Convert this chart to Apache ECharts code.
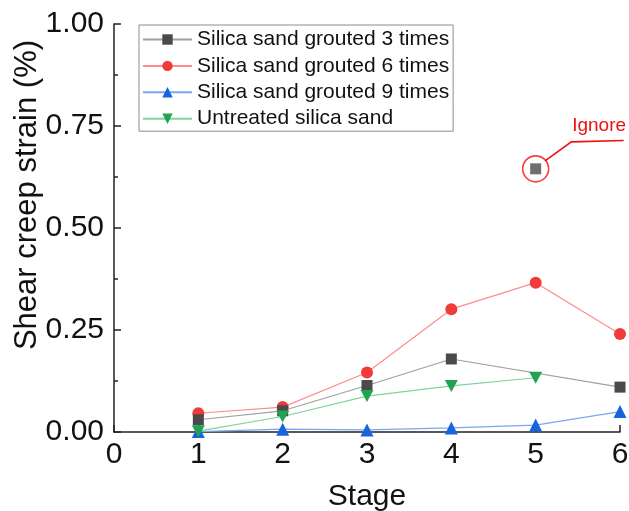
<!DOCTYPE html>
<html>
<head>
<meta charset="utf-8">
<script src="https://cdn.jsdelivr.net/npm/echarts@6/dist/echarts.min.js"></script>
<style>html,body{margin:0;padding:0;background:#fff}#c{width:629px;height:511px}</style>
</head>
<body>
<div id="c"></div>
<script>
var seriesNames = ['Silica sand grouted 3 times','Silica sand grouted 6 times','Silica sand grouted 9 times','Untreated silica sand'];
var stages3 = [1, 2, 3, 4, 6];
var grouted3 = [0.030, 0.052, 0.114, 0.179, 0.110];
var ignoredStage = 5;
var ignoredValue = 0.645;
var stages6 = [1, 2, 3, 4, 5, 6];
var grouted6 = [0.046, 0.061, 0.146, 0.301, 0.366, 0.240];
var stages9 = [1, 2, 3, 4, 5, 6];
var grouted9 = [0.001, 0.007, 0.005, 0.010, 0.017, 0.050];
var stagesU = [1, 2, 3, 4, 5];
var untreated = [0.002, 0.038, 0.088, 0.113, 0.133];
var xTicks = [0, 1, 2, 3, 4, 5, 6];
var yTicks = [0, 0.25, 0.5, 0.75, 1.0];

function pairs(xs, ys){ return xs.map(function(x,i){ return [x, ys[i]]; }); }

var font = '"Liberation Sans", Arial, sans-serif';
var chart = echarts.init(document.getElementById('c'), null, {renderer:'canvas'});
var downTri = 'path://M0,0 L10,0 L5,9 Z';

chart.setOption({
  animation: false,
  backgroundColor: '#fff',
  grid: {left: 114, right: 9, top: 24, bottom: 79, containLabel: false, outerBoundsMode: 'none'},
  legend: {
    data: seriesNames,
    orient: 'vertical',
    left: 139, top: 25,
    padding: [4, 4, 2, 3],
    itemWidth: 49, itemHeight: 13, itemGap: 5.4,
    borderColor: '#8c8c8c', borderWidth: 1, borderRadius: 0,
    textStyle: {fontFamily: font, fontSize: 21, color: '#111', lineHeight: 21},
    selectedMode: false
  },
  xAxis: {
    type: 'value', min: xTicks[0], max: xTicks[xTicks.length-1], interval: 1,
    name: 'Stage', nameLocation: 'middle', nameGap: 50,
    nameTextStyle: {fontFamily: font, fontSize: 30, color: '#111'},
    axisLine: {lineStyle: {color: '#222', width: 1.5}},
    axisTick: {inside: true, length: 7, lineStyle: {color: '#222', width: 1.5}},
    axisLabel: {fontFamily: font, fontSize: 30, color: '#111', margin: 8},
    splitLine: {show: false}
  },
  yAxis: {
    type: 'value', min: yTicks[0], max: yTicks[yTicks.length-1], interval: 0.25,
    name: 'Shear creep strain (%)', nameLocation: 'middle', nameGap: 71, nameMoveOverlap: false,
    nameTextStyle: {fontFamily: font, fontSize: 31, color: '#111', padding: [0,0,0,66]},
    axisLine: {show: true, lineStyle: {color: '#222', width: 1.5}},
    axisTick: {inside: true, length: 7, lineStyle: {color: '#222', width: 1.5}},
    minorTick: {show: true, splitNumber: 2, length: 4, lineStyle: {color: '#222', width: 1.5}},
    axisLabel: {fontFamily: font, fontSize: 30, color: '#111', margin: 10,
      formatter: function(v){ return v.toFixed(2); }},
    splitLine: {show: false}
  },
  series: [
    {name: seriesNames[1], type: 'line', data: pairs(stages6, grouted6),
      symbol: 'circle', symbolSize: 12,
      itemStyle: {color: '#f23a3a'}, lineStyle: {color: '#ff8c8c', width: 1.2}},
    {name: seriesNames[0], type: 'line', data: pairs(stages3, grouted3),
      symbol: 'rect', symbolSize: 11,
      itemStyle: {color: '#4a4a4a'}, lineStyle: {color: '#a0a0a0', width: 1.2}},
    {name: 'ignored', type: 'scatter', data: [[ignoredStage, ignoredValue]],
      symbol: 'rect', symbolSize: 11, itemStyle: {color: '#4a4a4a'}, silent: true},
    {name: 'ignoredRing', type: 'scatter', data: [[ignoredStage, ignoredValue]],
      symbol: 'circle', symbolSize: 26,
      itemStyle: {color: 'rgba(0,0,0,0)', borderColor: '#f01010', borderWidth: 1.6}, silent: true},
    {name: seriesNames[2], type: 'line', data: pairs(stages9, grouted9),
      symbol: 'triangle', symbolSize: 13,
      itemStyle: {color: '#1864dc'}, lineStyle: {color: '#78a8f0', width: 1.2}},
    {name: seriesNames[3], type: 'line', data: pairs(stagesU, untreated),
      symbol: downTri, symbolSize: [13, 12],
      itemStyle: {color: '#22a352'}, lineStyle: {color: '#80d49a', width: 1.2}}
  ]
});

var p = chart.convertToPixel({gridIndex: 0}, [ignoredStage, ignoredValue]);
chart.setOption({
  graphic: [
    {type: 'polyline', silent: true,
      shape: {points: [[p[0]+9.7, p[1]-8.3], [p[0]+35.7, p[1]-27], [p[0]+88, p[1]-28.3]]},
      style: {stroke: '#f01010', lineWidth: 1.6, fill: null}},
    {type: 'text', silent: true, x: p[0]+36.5, y: p[1]-43,
      style: {text: 'Ignore', fill: '#f01010', font: '19px ' + font, verticalAlign: 'middle', align: 'left'}}
  ]
});
</script>
</body>
</html>
